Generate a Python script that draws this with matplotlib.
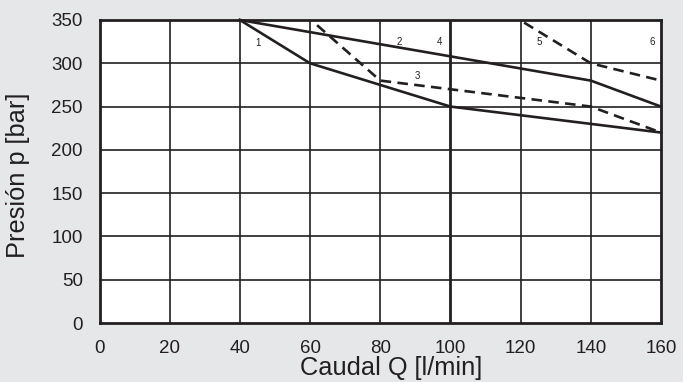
import matplotlib
matplotlib.use("Agg")
import matplotlib.pyplot as plt

# curve data (Q in l/min, p in bar)
curve1_q = [40, 60, 100, 160]
curve1_p = [350, 300, 250, 220]
curve2_q = [40, 140, 160]
curve2_p = [350, 280, 250]
curve3_q = [62, 80, 140, 160]
curve3_p = [344, 280, 250, 220]
curve5_q = [121, 140, 160]
curve5_p = [347, 300, 280]

label_text = ["1", "2", "3", "4", "5", "6"]
label_q = [45.2, 85.3, 90.7, 97, 125.2, 157.4]
label_p = [324, 325, 285, 325, 325, 325]

x_ticks = [0, 20, 40, 60, 80, 100, 120, 140, 160]
y_ticks = [0, 50, 100, 150, 200, 250, 300, 350]

bg = "#e6e7e8"
ink = "#231f20"
plt.rcParams["font.family"] = ["Liberation Sans", "DejaVu Sans"]

fig = plt.figure(figsize=(6.83, 3.82), dpi=100, facecolor=bg)
ax = fig.add_axes([99.5 / 683, 1 - 323 / 382, 561.5 / 683, 303 / 382])
ax.set_facecolor("white")

for x in x_ticks[1:-1]:
    ax.axvline(x, color=ink, lw=2.0 if x == 100 else 1.2, zorder=1)
for y in y_ticks[1:-1]:
    ax.axhline(y, color=ink, lw=1.2, zorder=1)

line_kw = dict(color=ink, lw=1.9, zorder=3, clip_on=False)
ax.plot(curve1_q, curve1_p, **line_kw)
ax.plot(curve2_q, curve2_p, **line_kw)
ax.plot(curve3_q, curve3_p, ls=(0, (4, 2.4)), **line_kw)
ax.plot(curve5_q, curve5_p, ls=(0, (4, 2.4)), **line_kw)

for t, q, p in zip(label_text, label_q, label_p):
    ax.text(q, p, t, fontsize=7, color=ink, ha="center", va="center", zorder=4)

ax.set_xlim(0, 160)
ax.set_ylim(0, 350)
ax.set_xticks(x_ticks)
ax.set_yticks(y_ticks)
ax.tick_params(length=0, labelsize=13.5, colors=ink)
ax.tick_params(axis="x", pad=12)
ax.tick_params(axis="y", pad=12)
for s in ax.spines.values():
    s.set_linewidth(2.0)
    s.set_color(ink)
    s.set_zorder(5)

ax.set_xlabel("Caudal Q [l/min]", fontsize=18.3, color=ink)
ax.set_ylabel("Presión p [bar]", fontsize=18.3, color=ink)
ax.xaxis.set_label_coords(0.519, -0.108)
ax.yaxis.set_label_coords(-0.123, 0.487)

fig.savefig("out.png", dpi=100, facecolor=bg)
